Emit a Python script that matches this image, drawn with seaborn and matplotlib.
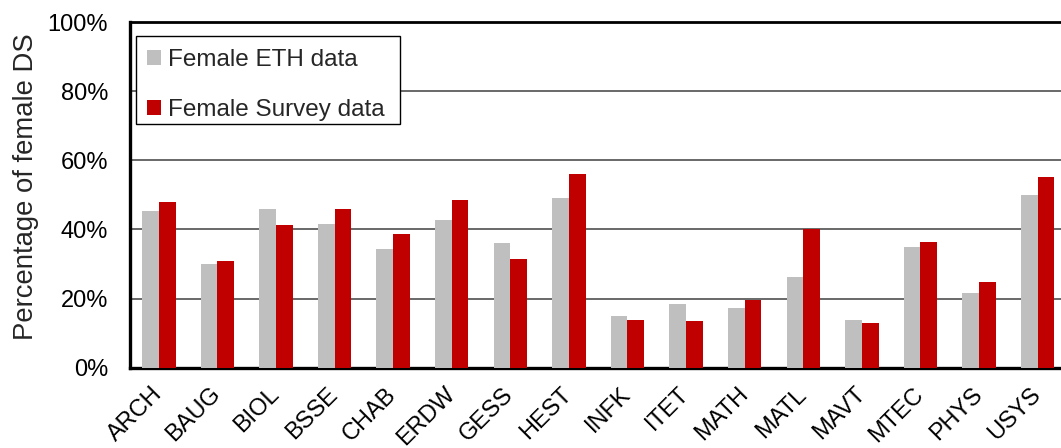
import pandas as pd
import matplotlib
matplotlib.use("Agg")
import matplotlib.pyplot as plt
import matplotlib.transforms as mtransforms
from matplotlib.patches import Rectangle
import seaborn as sns
from matplotlib.ticker import PercentFormatter

departamentos = ["ARCH", "BAUG", "BIOL", "BSSE", "CHAB", "ERDW", "GESS", "HEST",
                 "INFK", "ITET", "MATH", "MATL", "MAVT", "MTEC", "PHYS", "USYS"]
eth = [45.4, 29.9, 45.8, 41.6, 34.3, 42.8, 36.0, 49.1,
       14.8, 18.4, 17.2, 26.1, 13.9, 34.8, 21.7, 50.1]
survey = [48.0, 30.8, 41.4, 46.0, 38.8, 48.6, 31.5, 56.0,
          13.7, 13.4, 19.5, 40.0, 12.8, 36.5, 24.9, 55.2]
series = ["Female ETH data", "Female Survey data"]
y_ticks = [0, 20, 40, 60, 80, 100]

df = pd.DataFrame({
    "Departamento": departamentos * 2,
    "Valor": eth + survey,
    "Serie": [series[0]] * len(eth) + [series[1]] * len(survey),
})

sns.set_style("white")
plt.rcParams["font.family"] = ["Liberation Sans", "DejaVu Sans"]

fig = plt.figure(figsize=(10.61, 4.48), dpi=100)
ax = fig.add_axes([0.1221, 0.1795, 0.8779, 0.7708])

sns.barplot(x="Departamento", y="Valor", hue="Serie", data=df, ax=ax,
            palette=["#BFBFBF", "#C00000"], saturation=1, width=0.57, gap=0,
            edgecolor="none", linewidth=0, zorder=3)

# Grade e eixos
ax.set_ylim(0, 100)
ax.set_xlim(-0.5, 15.40)
ax.set_yticks(y_ticks)
ax.yaxis.set_major_formatter(PercentFormatter(decimals=0))
ax.grid(axis="y", color="#404040", linewidth=1.1, zorder=0)
ax.grid(axis="x", visible=False)
ax.tick_params(axis="both", length=0, labelsize=17, colors="black")
ax.tick_params(axis="y", pad=15.5)
ax.tick_params(axis="x", pad=9.5)
desloc = mtransforms.ScaledTranslation(-0.08, -0.025, fig.dpi_scale_trans)
for lbl in ax.get_xticklabels():
    lbl.set_rotation(45)
    lbl.set_ha("right")
    lbl.set_rotation_mode("anchor")
    lbl.set_transform(lbl.get_transform() + desloc)

for lado in ["left", "bottom"]:
    ax.spines[lado].set_linewidth(2.4)
    ax.spines[lado].set_color("black")
ax.spines["top"].set_linewidth(2.0)
ax.spines["top"].set_color("black")
ax.spines["right"].set_visible(False)

ax.set_xlabel("")
ax.set_ylabel("Percentage of female DS", fontsize=19.8)
ax.yaxis.set_label_coords(-0.0975, 0.5245)

# Legenda: caixa desenhada à parte para controlar o espaçamento interno
caixa = Rectangle((0.0067, 0.7055), 0.284, 0.2545, transform=ax.transAxes,
                  facecolor="white", edgecolor="black", linewidth=1.0, zorder=4)
ax.add_patch(caixa)
leg = ax.legend(loc="upper left", bbox_to_anchor=(0.0188, 0.922), fontsize=17.5,
                frameon=False, handlelength=0.58, handleheight=0.56,
                handletextpad=0.28, labelspacing=1.15, borderpad=0,
                borderaxespad=0)
leg.set_zorder(5)

plt.savefig("out.png", dpi=100)
